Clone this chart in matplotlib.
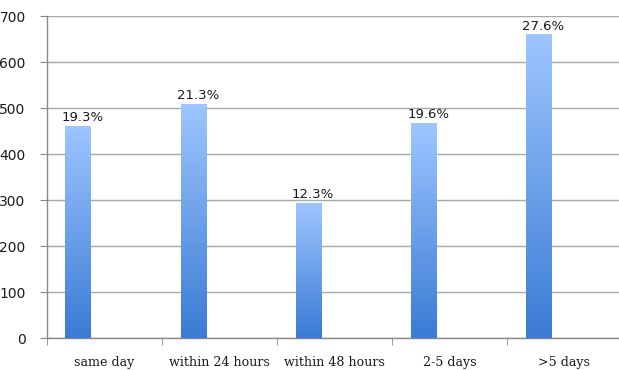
import numpy as np
import matplotlib
matplotlib.use("Agg")
import matplotlib.pyplot as plt
from matplotlib.colors import LinearSegmentedColormap

# response time groups and number of cases in each
categories = ['same day', 'within 24 hours', 'within 48 hours', '2-5 days', '>5 days']
counts = [461, 509, 294, 468, 660]
pct_labels = ['19.3%', '21.3%', '12.3%', '19.6%', '27.6%']

# light blue at the top of each bar, darker blue at the bottom
bar_cmap = LinearSegmentedColormap.from_list('barfill', ['#3A7BD5', '#9EC6FF'])

fig = plt.figure(figsize=(6.19, 3.70), dpi=100)
ax = fig.add_axes([46.5 / 619, 32 / 370, (622 - 46.5) / 619, 322 / 370])

x = np.arange(len(categories))
bars = ax.bar(x - 0.224, counts, width=0.222, color='none', edgecolor='none', zorder=3)

# fill every bar with a vertical gradient clipped to the bar
grad = np.linspace(0, 1, 256).reshape(-1, 1)
for b in bars:
    x0, y0 = b.get_x(), b.get_y()
    im = ax.imshow(grad, cmap=bar_cmap, origin='lower', aspect='auto',
                   extent=[x0, x0 + b.get_width(), y0, y0 + b.get_height()], zorder=3)
    im.set_clip_path(b)

for b, lab in zip(bars, pct_labels):
    ax.text(b.get_x() + b.get_width() / 2 + 0.04, b.get_height() + 4, lab,
            ha='center', va='bottom', fontsize=9.5, color='#1a1a1a', family='DejaVu Sans')

ax.set_xlim(-0.5, len(categories) - 0.5)
ax.set_ylim(0, 700)
ax.set_yticks(range(0, 701, 100))
ax.yaxis.grid(True, color='#A8A8A8', linewidth=1)
ax.set_axisbelow(True)

ax.set_xticks(x)
ax.set_xticklabels(categories, family='DejaVu Serif', fontsize=9.1, color='#1a1a1a')
ax.set_xticks(np.arange(-0.5, len(categories), 1), minor=True)
ax.tick_params(axis='x', which='major', length=0, pad=13)
ax.tick_params(axis='x', which='minor', length=5, color='#888888')
ax.tick_params(axis='y', length=5, color='#888888', labelsize=10, labelcolor='#1a1a1a', pad=10)

for side in ['top', 'right']:
    ax.spines[side].set_visible(False)
for side in ['left', 'bottom']:
    ax.spines[side].set_color('#888888')
    ax.spines[side].set_linewidth(1)

fig.savefig('out.png', dpi=100)
